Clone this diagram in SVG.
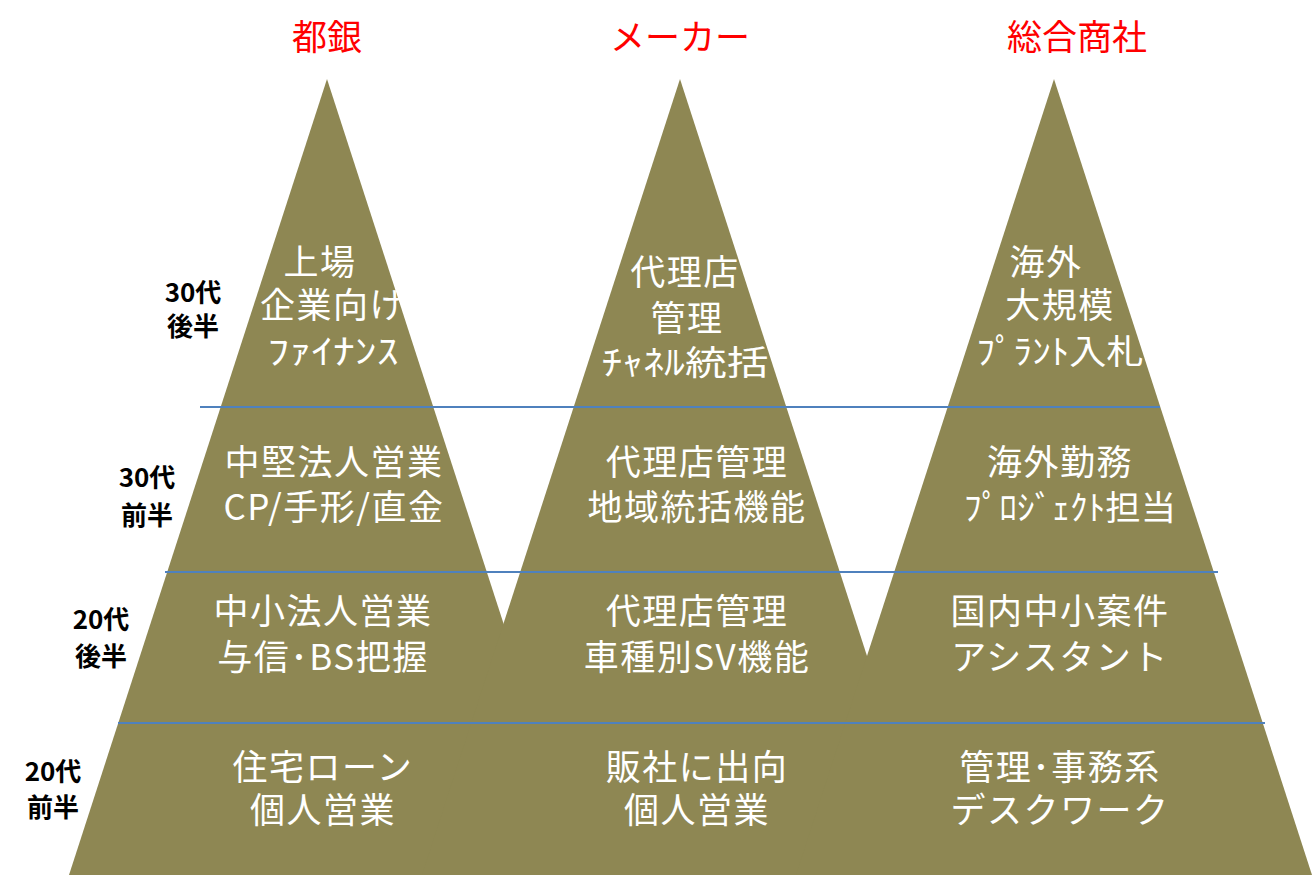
<svg xmlns="http://www.w3.org/2000/svg" width="1313" height="875" viewBox="0 0 1313 875">
<style>
.m{fill:#8E8753}
.t{fill:#fff;font-family:"Noto Sans CJK JP","Noto Sans",sans-serif;font-size:35px;letter-spacing:1.5px;text-anchor:middle}
.n{fill:#fff;font-family:"Noto Sans CJK JP","Noto Sans",sans-serif;font-size:34px;text-anchor:middle}
.h{fill:#f00;font-family:"Noto Sans CJK JP","Noto Sans",sans-serif;font-size:35px;text-anchor:middle}
.a{fill:#000;font-family:"Noto Sans CJK JP","Noto Sans",sans-serif;font-size:26px;font-weight:bold;text-anchor:middle}
.l{stroke:#4F81BD;stroke-width:2;fill:none}
</style>
<rect width="1313" height="875" fill="#fff"/>
<g id="mountain-toginko"><polygon class="m" points="327,79 69,875 585,875"/></g>
<g id="mountain-maker"><polygon class="m" points="680,79 422,875 938,875"/></g>
<g id="mountain-shosha"><polygon class="m" points="1054,79 796,875 1312,875"/></g>
<g id="connectors">
<line class="l" x1="200" y1="407" x2="1160" y2="407"/>
<line class="l" x1="165" y1="572" x2="1218" y2="572"/>
<line class="l" x1="118" y1="723" x2="1265" y2="723"/>
</g>
<g id="titles">
<text class="h" x="327" y="50">都銀</text>
<text class="h" x="680" y="50">メーカー</text>
<text class="h" x="1077" y="50">総合商社</text>
</g>
<g id="ages">
<text class="a" x="193" y="302">30代</text><text class="a" x="193" y="336">後半</text>
<text class="a" x="147" y="487">30代</text><text class="a" x="147" y="525">前半</text>
<text class="a" x="101" y="629">20代</text><text class="a" x="101" y="666">後半</text>
<text class="a" x="53" y="781">20代</text><text class="a" x="53" y="817">前半</text>
</g>
<g id="col-toginko">
<text class="t" x="320" y="275">上場</text>
<text class="t" x="333" y="318">企業向け</text>
<text class="n" x="333" y="364" textLength="131" lengthAdjust="spacingAndGlyphs">ﾌｧｲﾅﾝｽ</text>
<text class="t" x="334" y="475">中堅法人営業</text>
<text class="t" x="334" y="520">CP/手形/直金</text>
<text class="t" x="323" y="624">中小法人営業</text>
<text class="t" x="323" y="670">与信･BS把握</text>
<text class="t" x="323" y="780">住宅ローン</text>
<text class="t" x="323" y="823">個人営業</text>
</g>
<g id="col-maker">
<text class="t" x="685" y="285">代理店</text>
<text class="t" x="687" y="331">管理</text>
<text class="n" x="685" y="375" textLength="167" lengthAdjust="spacingAndGlyphs">ﾁｬﾈﾙ統括</text>
<text class="t" x="697" y="475">代理店管理</text>
<text class="t" x="697" y="520">地域統括機能</text>
<text class="t" x="697" y="624">代理店管理</text>
<text class="t" x="697" y="670">車種別SV機能</text>
<text class="t" x="697" y="780">販社に出向</text>
<text class="t" x="697" y="823">個人営業</text>
</g>
<g id="col-shosha">
<text class="t" x="1046" y="275">海外</text>
<text class="t" x="1060" y="318">大規模</text>
<text class="n" x="1060" y="364" textLength="167" lengthAdjust="spacingAndGlyphs">ﾌﾟﾗﾝﾄ入札</text>
<text class="t" x="1060" y="475">海外勤務</text>
<text class="n" x="1070" y="520" textLength="212" lengthAdjust="spacingAndGlyphs">ﾌﾟﾛｼﾞｪｸﾄ担当</text>
<text class="t" x="1060" y="624">国内中小案件</text>
<text class="t" x="1060" y="670">アシスタント</text>
<text class="t" x="1060" y="780">管理･事務系</text>
<text class="t" x="1060" y="823">デスクワーク</text>
</g>
</svg>
